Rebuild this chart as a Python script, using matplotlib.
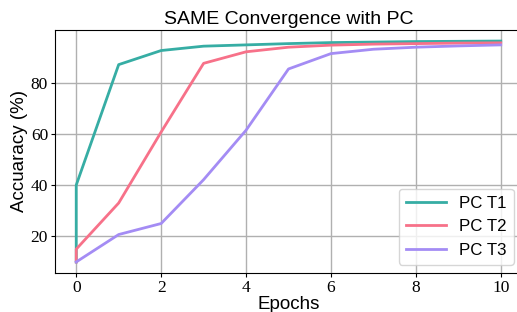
import matplotlib
matplotlib.use("Agg")
import matplotlib.pyplot as plt

epochs = [0, 0, 1, 2, 3, 4, 5, 6, 7, 8, 9, 10]
pc_t1 = [10, 40, 87, 92.5, 94.2, 94.7, 95.2, 95.6, 95.8, 96.0, 96.1, 96.2]
pc_t2 = [10, 15, 33, 60.7, 87.5, 92.0, 93.8, 94.6, 95.0, 95.2, 95.4, 95.5]
pc_t3 = [10, 10, 20.7, 25, 42.1, 61.4, 85.3, 91.3, 93.0, 93.8, 94.3, 94.7]
labels = ["PC T1", "PC T2", "PC T3"]
colors = ["#36ada4", "#f77189", "#a48cf4"]

fig = plt.figure(figsize=(5.17, 3.12), dpi=100)
ax = fig.add_axes([55/517, 39/312, 467/517, 243/312])
for ys, lab, c in zip([pc_t1, pc_t2, pc_t3], labels, colors):
    ax.plot(epochs, ys, color=c, lw=2, label=lab)

ax.grid(True, color="#b0b0b0", lw=1)
ax.set_axisbelow(True)
ax.set_xticks([0, 2, 4, 6, 8, 10])
ax.set_yticks([20, 40, 60, 80])
ax.tick_params(labelfontfamily="Liberation Serif", labelsize=12.5, length=3, pad=2)
ax.set_xlabel("Epochs", fontfamily="Liberation Sans", fontsize=13.5, labelpad=0)
ax.set_ylabel("Accuaracy (%)", fontfamily="Liberation Sans", fontsize=13.5, labelpad=2)
ax.set_title("SAME Convergence with PC", fontfamily="Liberation Sans", fontsize=14, pad=4)
ax.legend(loc="lower right", prop={"family": "Liberation Sans", "size": 12.2},
          handlelength=2.35)
fig.savefig("out.png", dpi=100)
